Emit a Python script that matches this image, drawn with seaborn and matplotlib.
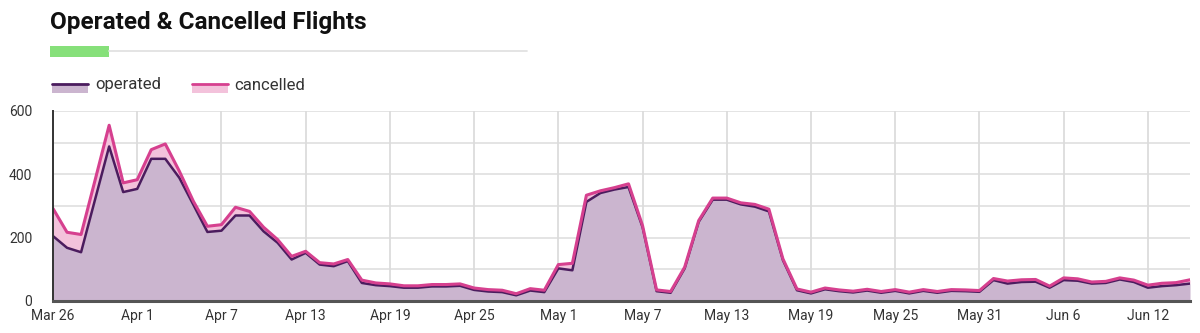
import numpy as np
import pandas as pd
import matplotlib
matplotlib.use("Agg")
import matplotlib.pyplot as plt
import seaborn as sns
from matplotlib.patches import Rectangle
from matplotlib.lines import Line2D

# ---- data ----
start_date = "2020-03-26"
operated = [205, 168, 154, 321, 488, 344, 354, 449, 449, 389,
            304, 218, 222, 270, 270, 220, 184, 131, 152, 115,
            110, 126, 57, 50, 47, 42, 42, 46, 46, 48,
            35, 30, 28, 18, 33, 28, 103, 97, 313, 341,
            352, 360, 233, 31, 26, 103, 250, 320, 320, 305,
            298, 283, 129, 34, 24, 37, 31, 27, 33, 26,
            32, 24, 32, 26, 32, 31, 29, 66, 55, 60,
            61, 42, 66, 64, 55, 57, 68, 60, 42, 47,
            50, 55]
cancelled = [87, 49, 56, 61, 67, 29, 29, 29, 47, 21,
             11, 18, 19, 26, 13, 13, 10, 10, 5, 6,
             7, 5, 9, 7, 7, 6, 6, 6, 6, 6,
             6, 6, 6, 5, 6, 6, 12, 22, 21, 7,
             6, 10, 5, 4, 4, 4, 4, 5, 5, 5,
             7, 7, 4, 4, 4, 4, 4, 4, 4, 4,
             4, 4, 4, 4, 4, 4, 4, 5, 8, 7,
             7, 5, 7, 6, 5, 5, 5, 6, 8, 9,
             8, 12]
series_names = ["operated", "cancelled"]
title = "Operated & Cancelled Flights"
y_ticks = [0, 200, 400, 600]

dates = pd.date_range(start_date, periods=len(operated), freq="D")
df = pd.DataFrame({"date": dates, "operated": operated, "cancelled": cancelled})
df["total"] = df["operated"] + df["cancelled"]

# ---- style ----
sns.set_theme(style="white")
plt.rcParams["font.family"] = ["Roboto", "DejaVu Sans"]

op_line = "#4b1c5e"
op_fill = "#cbb5cf"
ca_line = "#d6408f"
ca_fill = "#f3c2db"

fig = plt.figure(figsize=(12, 3.33), dpi=100)
ax = fig.add_axes([53 / 1200, 1 - 301 / 333, (1190 - 53) / 1200, (301 - 111) / 333])

ax.fill_between(df["date"], df["operated"], df["total"], color=ca_fill, lw=0, zorder=2)
ax.fill_between(df["date"], 0, df["operated"], color=op_fill, lw=0, zorder=2)
sns.lineplot(data=df, x="date", y="total", ax=ax, color=ca_line, lw=2.2, zorder=4)
sns.lineplot(data=df, x="date", y="operated", ax=ax, color=op_line, lw=1.8, zorder=3)

ax.set_xlim(dates[0], dates[-1])
ax.set_ylim(0, 600)
ax.set_yticks(y_ticks)
ax.set_yticks(np.arange(0, 601, 100), minor=True)
tick_dates = dates[::6]
ax.set_xticks(tick_dates)
ax.set_xticklabels([d.strftime("%b ") + str(d.day) for d in tick_dates])
ax.grid(True, which="both", axis="y", color="#dcdcdc", lw=1.1, zorder=0)
ax.grid(True, which="major", axis="x", color="#d6d6d6", lw=1.1, zorder=0)
ax.set_axisbelow(True)
ax.set_xlabel("")
ax.set_ylabel("")
for s in ["top", "right"]:
    ax.spines[s].set_visible(False)
ax.spines["left"].set_color("#333333")
ax.spines["left"].set_linewidth(1.4)
ax.spines["bottom"].set_color("#555555")
ax.spines["bottom"].set_linewidth(2.2)
ax.spines["left"].set_zorder(5)
ax.spines["bottom"].set_zorder(5)
ax.tick_params(axis="both", length=0, labelsize=10, colors="#333333")
ax.tick_params(axis="y", pad=15)
ax.tick_params(axis="x", pad=6)
for lbl in ax.get_yticklabels():
    lbl.set_horizontalalignment("right")

# ---- title & decoration ----
W, H = 1200, 333
fig.text(50 / W, 1 - 23 / H, title, fontsize=17.5, fontweight="bold", color="#111111",
         va="center", ha="left")
fig.add_artist(Line2D([109 / W, 527 / W], [1 - 51 / H, 1 - 51 / H], color="#e2e2e2", lw=1.3))
fig.add_artist(Rectangle((50 / W, 1 - 57 / H), 59 / W, 11 / H, color="#86e07a", lw=0))

# ---- legend ----
legend_items = [(52, 95, op_line, op_fill), (192, 234, ca_line, ca_fill)]
for name, (x0, tx, lc, fc) in zip(series_names, legend_items):
    fig.add_artist(Rectangle((x0 / W, 1 - 93 / H), 36 / W, 9 / H, color=fc, lw=0))
    fig.add_artist(Line2D([x0 / W, (x0 + 36) / W], [1 - 84 / H, 1 - 84 / H], color=lc, lw=2))
    fig.text(tx / W, 1 - 85 / H, name, fontsize=12, color="#333333", va="center", ha="left")

fig.savefig("out.png", dpi=100)
